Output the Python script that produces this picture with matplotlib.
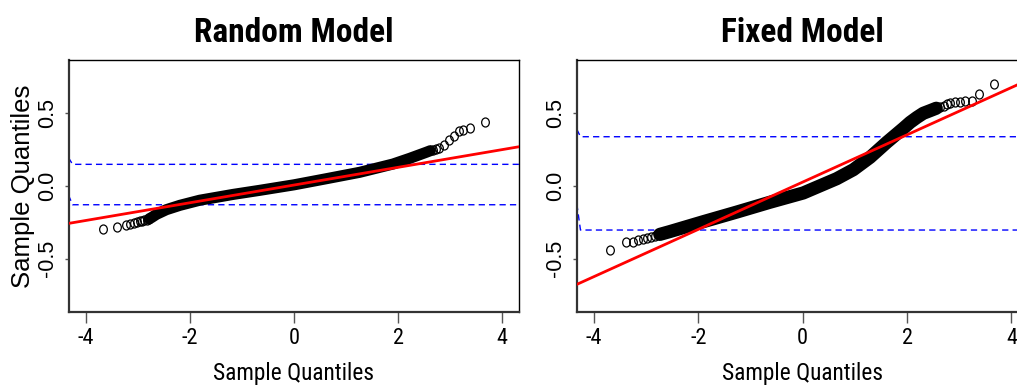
import numpy as np
import matplotlib.pyplot as plt
from matplotlib.path import Path
from matplotlib import font_manager

# ---- Random model ----
# dense middle part of the Q-Q cloud
rand_band_x = [-2.78, -2.73, -2.64, -2.45, -2.19, -1.81, -1.17, -0.66, 0.0, 0.62, 1.26, 1.90, 2.22, 2.54, 2.62]
rand_band_y = [-0.226, -0.216, -0.195, -0.163, -0.133, -0.098, -0.058, -0.03, 0.008, 0.05, 0.094, 0.151, 0.19, 0.232, 0.243]
# single circles in the tails
rand_tail_x = [-3.67, -3.39, -3.23, -3.14, -3.07, -3.01, -2.96, -2.91, -2.87, -2.83, -2.78,
               2.66, 2.72, 2.79, 2.89, 2.98, 3.08, 3.16, 3.25, 3.38, 3.67]
rand_tail_y = [-0.296, -0.284, -0.266, -0.259, -0.252, -0.248, -0.243, -0.239, -0.236, -0.232, -0.226,
               0.248, 0.253, 0.259, 0.282, 0.317, 0.344, 0.378, 0.385, 0.397, 0.443]
rand_line_x = [-4.32, 4.32]
rand_line_y = [-0.257, 0.27]
rand_upper_x = [-4.33, -4.25, 4.35]
rand_upper_y = [0.195, 0.149, 0.149]
rand_lower_x = [-4.33, -4.25, 4.35]
rand_lower_y = [-0.062, -0.129, -0.129]

# ---- Fixed model ----
fix_band_x = [-2.74, -2.55, -2.23, -1.91, -1.27, -0.63, 0.01, 0.65, 0.97, 1.29, 1.61, 1.93, 2.06, 2.19, 2.31, 2.44, 2.56]
fix_band_y = [-0.333, -0.314, -0.28, -0.246, -0.18, -0.112, -0.048, 0.05, 0.112, 0.197, 0.30, 0.397, 0.438, 0.472, 0.50, 0.518, 0.535]
fix_tail_x = [-3.69, -3.39, -3.25, -3.16, -3.07, -2.99, -2.91, -2.83, -2.74,
              2.56, 2.63, 2.70, 2.76, 2.83, 2.92, 3.02, 3.11, 3.24, 3.38, 3.66]
fix_tail_y = [-0.440, -0.388, -0.388, -0.372, -0.367, -0.360, -0.353, -0.344, -0.333,
              0.535, 0.545, 0.553, 0.565, 0.573, 0.576, 0.58, 0.585, 0.587, 0.633, 0.702]
fix_line_x = [-4.33, 4.33]
fix_line_y = [-0.677, 0.731]
fix_upper_x = [-4.33, -4.26, 4.4]
fix_upper_y = [0.39, 0.339, 0.339]
fix_lower_x = [-4.33, -4.26, 4.4]
fix_lower_y = [-0.124, -0.303, -0.303]

x_ticks = [-4, -2, 0, 2, 4]
y_ticks = [-0.5, 0.0, 0.5]
y_tick_labels = ["-0.5", "0.0", "0.5"]

# horizontal text in the reference is narrow, rotated text is plain Arial-like
names = {f.name for f in font_manager.fontManager.ttflist}
narrow = "Liberation Sans"
for cand in ["Arial Narrow", "Liberation Sans Narrow", "Nimbus Sans Narrow", "Roboto Condensed",
             "Archivo Narrow", "PT Sans Narrow"]:
    if cand in names:
        narrow = cand
        break
wide = "Liberation Sans"

# slightly squeezed circle, like the reference
circ = Path.unit_circle()
ellipse = Path(circ.vertices * np.array([0.85, 1.0]), circ.codes)

fig = plt.figure(figsize=(10.17, 3.85), dpi=100)
ax1 = fig.add_axes([0.0678, 0.1896, 0.4425, 0.6546])
ax2 = fig.add_axes([0.5677, 0.1896, 0.4432, 0.6546])

panels = [
    (ax1, "Random Model", 8.0, rand_band_x, rand_band_y, rand_tail_x, rand_tail_y,
     rand_line_x, rand_line_y, rand_upper_x, rand_upper_y, rand_lower_x, rand_lower_y),
    (ax2, "Fixed Model", 9.5, fix_band_x, fix_band_y, fix_tail_x, fix_tail_y,
     fix_line_x, fix_line_y, fix_upper_x, fix_upper_y, fix_lower_x, fix_lower_y),
]

for ax, title, bw, bx, by, tx, ty, lx, ly, ux, uy, wx, wy in panels:
    ax.plot(bx, by, color="black", lw=bw, solid_capstyle="round", zorder=2)
    ax.plot(tx, ty, ls="none", marker=ellipse, ms=6.5, mfc="none", mec="black", mew=0.9, zorder=2)
    ax.plot(lx, ly, color="red", lw=2.0, zorder=3)
    ax.plot(ux, uy, color="blue", lw=1.0, dashes=(4.5, 3), zorder=1)
    ax.plot(wx, wy, color="blue", lw=1.0, dashes=(4.5, 3), zorder=1)

    ax.set_xlim(-4.32, 4.32)
    ax.set_ylim(-0.867, 0.867)
    ax.set_xticks(x_ticks)
    ax.set_xticklabels([str(v) for v in x_ticks], fontfamily=narrow, fontsize=16)
    ax.set_yticks(y_ticks)
    ax.set_yticklabels(y_tick_labels, fontfamily=wide, fontsize=15.5, rotation=90, va="center")
    ax.tick_params(axis="x", length=8, width=1.0, color="#555555", pad=3.5)
    ax.tick_params(axis="y", length=3, width=1.0, color="#555555", pad=5)

    for side in ["top", "right"]:
        ax.spines[side].set_color("black")
        ax.spines[side].set_linewidth(1.0)
    for side in ["left", "bottom"]:
        ax.spines[side].set_color("#333333")
        ax.spines[side].set_linewidth(1.6)

    ax.set_title(title, fontfamily=narrow, fontweight="bold", fontsize=24, pad=13)
    ax.set_xlabel("Sample Quantiles", fontfamily=narrow, fontsize=16.8)
    ax.xaxis.set_label_coords(0.5, -0.2)

ax1.set_ylabel("Sample Quantiles", fontfamily=wide, fontsize=18.5)
ax1.yaxis.set_label_coords(-0.075, 0.5)

fig.savefig("out.png", dpi=100)
